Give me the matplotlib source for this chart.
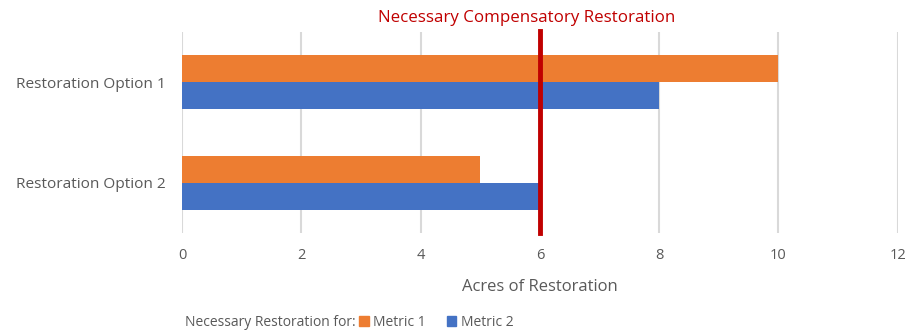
import numpy as np
import matplotlib.pyplot as plt
from matplotlib.patches import Patch

# acres of restoration per option
options = ["Restoration Option 1", "Restoration Option 2"]
metric_1 = [10, 5]
metric_2 = [8, 6]
required = 6

orange = "#ED7D31"
blue = "#4472C4"
red = "#C00000"
grey_text = "#595959"

plt.rcParams['font.family'] = ['Open Sans', 'DejaVu Sans']

fig = plt.figure(figsize=(9.17, 3.35), dpi=100)
ax = fig.add_axes([0.1985, 0.3045, 0.7805, 0.6])

ypos = np.array([1, 0])
h = 0.267
ax.barh(ypos + h / 2, metric_1, height=h, color=orange, zorder=2)
ax.barh(ypos - h / 2, metric_2, height=h, color=blue, zorder=2)
ax.axvline(required, color=red, lw=3.5, zorder=3, ymax=1.005, clip_on=False)

ax.set_xlim(0, 12)
ax.set_ylim(-0.5, 1.5)
ax.set_xticks(range(0, 13, 2))
ax.set_yticks(ypos)
ax.set_yticklabels(options)
ax.grid(axis='x', color='#d9d9d9', lw=1.5, zorder=0)
for s in ax.spines.values():
    s.set_visible(False)
ax.tick_params(length=0, labelcolor=grey_text)
ax.tick_params(axis='x', pad=11, labelsize=10.5)
ax.tick_params(axis='y', pad=12, labelsize=11.1)
ax.set_xlabel("Acres of Restoration", fontsize=12, color=grey_text, labelpad=11)

fig.text(527 / 917, 1 - 18 / 335, "Necessary Compensatory Restoration",
         color=red, fontsize=12.2, ha='center', va='center')

# legend prefix, then the swatches right after it
prefix = fig.text(185 / 917, 1 - 322 / 335, "Necessary Restoration for:",
                  color=grey_text, fontsize=10, ha='left', va='center')
fig.canvas.draw()
bb = prefix.get_window_extent().transformed(fig.transFigure.inverted())
handles = [Patch(color=orange, label="Metric 1"), Patch(color=blue, label="Metric 2")]
fig.legend(handles=handles, loc='center left', bbox_to_anchor=(bb.x1 + 0.004, 1 - 322 / 335),
           ncol=2, frameon=False, fontsize=10, handlelength=0.7, handleheight=0.7,
           handletextpad=0.3, columnspacing=1.5, labelcolor=grey_text,
           borderaxespad=0, borderpad=0)

fig.savefig("out.png", dpi=100)
